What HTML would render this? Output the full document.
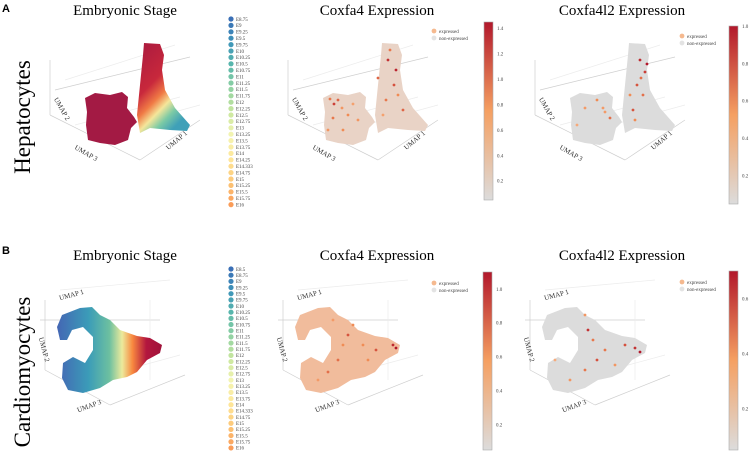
<!DOCTYPE html>
<html><head><meta charset="utf-8"><style>
body{margin:0;background:#fff;}
svg{display:block;font-family:"Liberation Serif",serif;}
</style></head><body>
<svg id="fig" width="750" height="459" viewBox="0 0 750 459">
<defs>
<linearGradient id="hepGrad" x1="0" y1="0" x2="0.6" y2="1">
<stop offset="0" stop-color="#a8193f"/><stop offset="0.45" stop-color="#c8283c"/><stop offset="0.62" stop-color="#f07a45"/><stop offset="0.74" stop-color="#f5e69a"/><stop offset="0.86" stop-color="#7ccaa5"/><stop offset="1" stop-color="#3fa0b8"/>
</linearGradient>
<linearGradient id="carGrad" x1="0" y1="0" x2="1" y2="0">
<stop offset="0" stop-color="#4466b4"/><stop offset="0.3" stop-color="#3b9cb8"/><stop offset="0.5" stop-color="#6dc0a0"/><stop offset="0.62" stop-color="#ecea9c"/><stop offset="0.72" stop-color="#f8883f"/><stop offset="0.85" stop-color="#b3173e"/><stop offset="1" stop-color="#a0123a"/>
</linearGradient>
<linearGradient id="exprBar" x1="0" y1="1" x2="0" y2="0">
<stop offset="0" stop-color="#dcdcdc"/><stop offset="0.5" stop-color="#f5a062"/><stop offset="1" stop-color="#b2182b"/>
</linearGradient>
</defs>
<text x="2" y="12" font-family="Liberation Sans" font-weight="bold" font-size="11">A</text>
<text x="2" y="254" font-family="Liberation Sans" font-weight="bold" font-size="11">B</text>
<text transform="translate(30,117) rotate(-90)" text-anchor="middle" font-size="23">Hepatocytes</text>
<text transform="translate(30,372) rotate(-90)" text-anchor="middle" font-size="23">Cardiomyocytes</text>
<text x="125" y="15" text-anchor="middle" font-size="15">Embryonic Stage</text>
<text x="377" y="15" text-anchor="middle" font-size="15">Coxfa4  Expression</text>
<text x="622" y="15" text-anchor="middle" font-size="15">Coxfa4l2  Expression</text>
<text x="125" y="260" text-anchor="middle" font-size="15">Embryonic Stage</text>
<text x="377" y="260" text-anchor="middle" font-size="15">Coxfa4  Expression</text>
<text x="622" y="260" text-anchor="middle" font-size="15">Coxfa4l2  Expression</text>
<g id="plots"></g>
</svg>
<script>
const stagesA=["E8.75","E9","E9.25","E9.5","E9.75","E10","E10.25","E10.5","E10.75","E11","E11.25","E11.5","E11.75","E12","E12.25","E12.5","E12.75","E13","E13.25","E13.5","E13.75","E14","E14.25","E14.333","E14.75","E15","E15.25","E15.5","E15.75","E16"];
const stagesB=["E8.5","E8.75","E9","E9.25","E9.5","E9.75","E10","E10.25","E10.5","E10.75","E11","E11.25","E11.5","E11.75","E12","E12.25","E12.5","E12.75","E13","E13.25","E13.5","E13.75","E14","E14.333","E14.75","E15","E15.25","E15.5","E15.75","E16"];
const hepLeftBlob=[[85,98],[95,93],[110,95],[122,92],[128,97],[127,108],[134,117],[137,122],[131,128],[128,140],[115,145],[100,143],[88,140],[86,125],[87,112]];
const hepRightLobe=[[144,43],[160,44],[164,55],[162,70],[165,90],[175,108],[190,125],[187,131],[170,130],[150,128],[140,133],[137,115],[139,95],[141,75],[143,55]];
const cardioArch=[[57,327],[62,315],[80,308],[92,307],[100,315],[110,320],[120,330],[137,336],[150,338],[162,345],[160,353],[147,360],[137,372],[127,377],[113,380],[100,388],[83,393],[68,390],[62,378],[63,363],[73,357],[85,363],[93,350],[93,337],[83,327],[72,330],[67,340],[60,340]];
const expA4=[[100,100,0.9],[96,104,1.1],[110,115,0.7],[150,60,1.2],[158,70,1.3],[156,85,1.0],[148,100,0.8],[120,120,0.6],[105,130,0.7],[165,110,0.9],[95,118,0.8],[140,78,0.9],[92,99,0.8],[104,108,0.6],[115,104,0.5],[90,130,0.6],[145,115,0.5],[160,95,0.7],[152,50,0.8]];
const expA4l2=[[155,60,0.9],[160,72,0.8],[152,85,0.7],[158,95,0.6],[112,100,0.5],[100,108,0.4],[125,118,0.6],[148,110,0.7],[150,120,0.5],[92,125,0.3],[118,108,0.4],[162,64,1.0],[156,78,0.6],[145,95,0.5],[120,112,0.4]];
const expB4=[[155,345,0.9],[158,348,1.0],[110,335,0.7],[100,360,0.6],[125,345,0.5],[90,372,0.6],[138,350,0.7],[80,380,0.4],[115,325,0.5],[105,345,0.5],[95,320,0.4],[130,360,0.5]];
const expB4l2=[[100,315,0.3],[103,330,0.6],[108,340,0.4],[140,345,0.5],[150,348,0.6],[155,352,0.7],[120,350,0.4],[100,370,0.4],[85,380,0.3],[112,360,0.5],[70,360,0.2],[130,365,0.3]];
const barTicksA4=[1.4,1.2,1.0,0.8,0.6,0.4,0.2];
const barTicksA4l2=[1.0,0.8,0.6,0.4,0.2];
const barTicksB4=[1.0,0.8,0.6,0.4,0.2];
const barTicksB4l2=[0.6,0.4,0.2];

const NS="http://www.w3.org/2000/svg";
const root=document.getElementById('plots');
function mk(tag,attrs,parent){const e=document.createElementNS(NS,tag);for(const k in attrs)e.setAttribute(k,attrs[k]);(parent||root).appendChild(e);return e;}
function hex(c){return [parseInt(c.slice(1,3),16),parseInt(c.slice(3,5),16),parseInt(c.slice(5,7),16)];}
function lerpPal(pal,t){const n=pal.length-1;const i=Math.min(n-1,Math.floor(t*n));const f=t*n-i;const a=hex(pal[i]),b=hex(pal[i+1]);return 'rgb('+a.map((v,k)=>Math.round(v+(b[k]-v)*f)).join(',')+')';}
const stagePal=["#3a6fb6","#3f95b9","#5ab8ac","#92d2a3","#c9e79e","#f3f4b2","#fee79a","#fdc878","#fa9c58"];
const exprPal=["#dcdcdc","#f7b083","#f08c55","#d0473a","#b2182b"];
function pts(a){return a.map(p=>p[0]+','+p[1]).join(' ');}

function grid(g,row){
  const lines=row==='A'?[[55,90,190,57],[50,60,50,115],[50,115,140,160],[140,160,200,120],[65,80,175,45],[75,125,180,97],[90,135,200,105]]
                       :[[40,320,160,320],[45,300,45,370],[45,370,110,405],[110,405,185,375],[60,290,170,280],[150,300,150,380],[70,385,180,355]];
  lines.forEach((l,i)=>{const e=mk('line',{x1:l[0],y1:l[1],x2:l[2],y2:l[3],stroke:i<4?'#cfcfcf':'#ececec','stroke-width':0.7},g);
    
    });
}
function axisLabels(g,row){
  const L=row==='A'?[[60,110,60,'UMAP 2'],[85,155,30,'UMAP 3'],[178,142,-40,'UMAP 1']]:[[72,297,-15,'UMAP 1'],[42,350,75,'UMAP 2'],[90,408,-20,'UMAP 3']];
  L.forEach(l=>{const t=mk('text',{transform:'translate('+l[0]+','+l[1]+') rotate('+l[2]+')','font-size':7,'text-anchor':'middle',fill:'#333'},g);t.textContent=l[3];
    
    });
}
function panel(dx,row,kind,exp,sc){
  const g=mk('g',{transform:'translate('+dx+',0)'});
  
  
  grid(g,row);axisLabels(g,row);
  const fill=kind==='stage'?null:(kind==='c4'?(row==='A'?'#e9d3c6':'#f1bc9c'):'#dcdcdc');
  if(row==='A'){
    const b=mk('polygon',{points:pts(hepLeftBlob),fill:fill||'#a31a44'},g);
    
    
    const r=mk('polygon',{points:pts(hepRightLobe),fill:fill||'url(#hepGrad)'},g);
    
    
  }else{
    const a=mk('polygon',{points:pts(cardioArch),fill:fill||'url(#carGrad)'},g);
    
    
  }
  (exp||[]).forEach(p=>{const c=mk('circle',{cx:p[0],cy:p[1],r:1.4,fill:lerpPal(exprPal,Math.min(1,p[2]/sc))},g);
    
    });
}
function stageLegend(list,y0,step){
  const g=mk('g',{});
  
  
  list.forEach((s,i)=>{const y=y0+i*step;
    const c=mk('circle',{cx:231,cy:y,r:2.6,fill:lerpPal(stagePal,i/(list.length-1))},g);
    
    
    const t=mk('text',{x:236,y:y+1.8,'font-size':5,fill:'#444'},g);t.textContent=s;
    
    });
}
function exprLegend(x,y){
  const g=mk('g',{});
  
  
  [['expressed','#f5b98f'],['non-expressed','#e3e3e3']].forEach((d,i)=>{
    const c=mk('circle',{cx:x,cy:y+i*7,r:2.4,fill:d[1]},g);
    
    
    const t=mk('text',{x:x+5,y:y+i*7+1.8,'font-size':5,fill:'#444'},g);t.textContent=d[0];
    
    });
}
function colorbar(x,y0,y1,ticks,vmin,vmax){
  const g=mk('g',{});
  
  
  mk('rect',{x:x,y:y0,width:9,height:y1-y0,fill:'url(#exprBar)',stroke:'#aaa','stroke-width':0.6},g);
  const sy=v=>y1-(v-vmin)/(vmax-vmin)*(y1-y0);
  ticks.forEach(v=>{const t=mk('text',{x:x+13,y:sy(v)+1.8,'font-size':5,fill:'#444'},g);t.textContent=v.toFixed(1);
    
    });
}
panel(0,'A','stage',null,1);
panel(238,'A','c4',expA4,1.4);
panel(485,'A','c4l2',expA4l2,1.0);
panel(0,'B','stage',null,1);
panel(238,'B','c4',expB4,1.0);
panel(485,'B','c4l2',expB4l2,0.7);
stageLegend(stagesA,19,6.4);
stageLegend(stagesB,269,6.17);
exprLegend(434,31);exprLegend(682,36);
exprLegend(434,283);exprLegend(682,282);
colorbar(484,22,200,barTicksA4,0.05,1.45);
colorbar(729,26,204,barTicksA4l2,0.05,1.0);
colorbar(483,272,450,barTicksB4,0.05,1.1);
colorbar(729,271,450,barTicksB4l2,0.05,0.7);
</script>
</body></html>
